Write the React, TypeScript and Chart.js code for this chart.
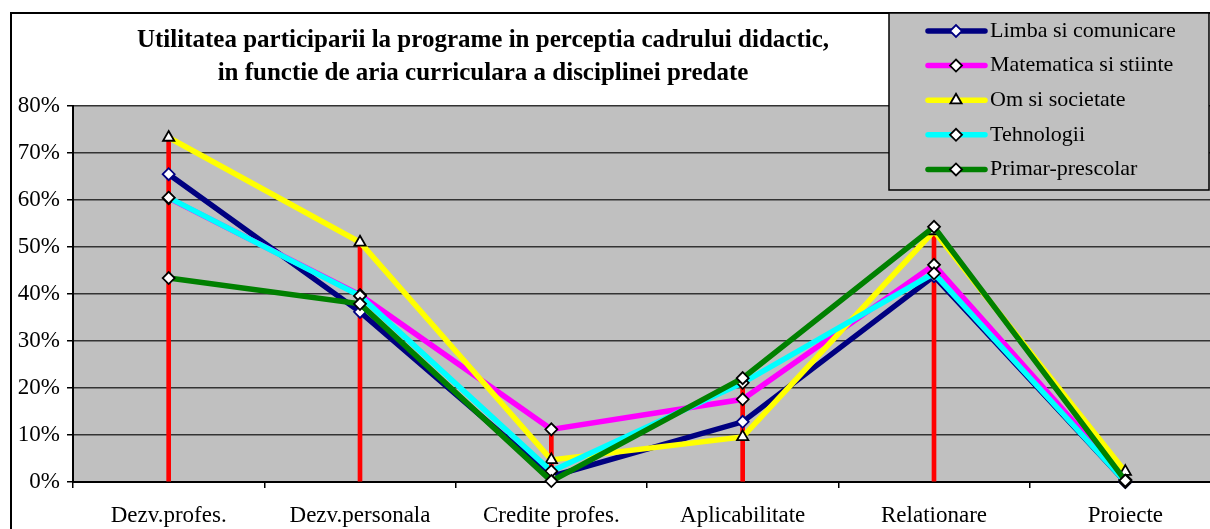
import React, { useEffect, useRef } from 'react';
import { Chart, registerables } from 'chart.js';
import { drawPoint } from 'chart.js/helpers';

Chart.register(...registerables);

const titleLines = [
  'Utilitatea participarii la programe in perceptia cadrului didactic,',
  'in functie de aria curriculara a disciplinei predate',
];
const categories = ['Dezv.profes.', 'Dezv.personala', 'Credite profes.', 'Aplicabilitate', 'Relationare', 'Proiecte'];
const seriesNames = ['Limba si comunicare', 'Matematica si stiinte', 'Om si societate', 'Tehnologii', 'Primar-prescolar'];
const limba = [65.5, 36.2, 1.2, 12.8, 43.8, 0];
const matematica = [60.4, 39.8, 11.2, 17.6, 46.2, 0.5];
const omSocietate = [73.3, 51.0, 4.7, 9.6, 53.4, 2.2];
const tehnologii = [60.5, 39.6, 2.3, 21.1, 44.4, 0];
const primar = [43.4, 37.9, 0.2, 22.1, 54.3, 0.3];
const yMin = 0;
const yMax = 80;
const yStep = 10;

const seriesValues = [limba, matematica, omSocietate, tehnologii, primar];
const lineColors = ['#000080', '#FF00FF', '#FFFF00', '#00FFFF', '#008000'];
const markerStyles = ['rectRot', 'rectRot', 'triangle', 'rectRot', 'rectRot'];
const markerBorders = ['#000080', '#000000', '#000000', '#000000', '#000000'];

const FONT = "'Liberation Serif', 'Times New Roman', serif";

const decor = {
  id: 'decor',
  beforeDraw(chart: any) {
    const { ctx, chartArea: a } = chart;
    ctx.save();
    ctx.fillStyle = '#ffffff';
    ctx.fillRect(0, 0, chart.width, chart.height);
    ctx.fillStyle = '#C0C0C0';
    ctx.fillRect(a.left, a.top, a.right - a.left, a.bottom - a.top);
    ctx.restore();
  },
  afterDraw(chart: any) {
    const { ctx } = chart;
    ctx.save();
    // outer frame
    ctx.strokeStyle = '#000';
    ctx.lineWidth = 2;
    ctx.strokeRect(11, 13, 1400, 700);
    // title
    ctx.fillStyle = '#000';
    ctx.font = `bold 25px ${FONT}`;
    ctx.textAlign = 'center';
    ctx.textBaseline = 'alphabetic';
    ctx.fillText(titleLines[0], 483, 47);
    ctx.fillText(titleLines[1], 483, 80);
    // legend
    const lx = 889, ly = 13, lw = 320, lh = 177;
    ctx.fillStyle = '#C0C0C0';
    ctx.fillRect(lx, ly, lw, lh);
    ctx.strokeStyle = '#000';
    ctx.lineWidth = 1.5;
    ctx.strokeRect(lx, ly, lw, lh);
    const lineDs = chart.data.datasets.filter((d: any) => d.type === 'line');
    lineDs.forEach((d: any, i: number) => {
      const y = ly + 18 + i * 34.6;
      ctx.strokeStyle = d.borderColor;
      ctx.lineWidth = 5.5;
      ctx.lineCap = 'round';
      ctx.beginPath();
      ctx.moveTo(928, y);
      ctx.lineTo(985, y);
      ctx.stroke();
      ctx.lineCap = 'butt';
      ctx.fillStyle = '#fff';
      ctx.strokeStyle = d.pointBorderColor;
      ctx.lineWidth = d.pointBorderWidth;
      drawPoint(ctx, { pointStyle: d.pointStyle, radius: d.pointRadius, borderWidth: d.pointBorderWidth, rotation: 0 } as any, 956, y);
      ctx.fillStyle = '#000';
      ctx.font = `22px ${FONT}`;
      ctx.textAlign = 'left';
      ctx.textBaseline = 'middle';
      ctx.fillText(d.label, 990, y);
    });
    ctx.restore();
  },
};

export default function App() {
  const ref = useRef<HTMLCanvasElement | null>(null);
  useEffect(() => {
    if (!ref.current) return;
    const maxes = categories.map((_, i) => Math.max(...seriesValues.map((s) => s[i])));
    const datasets: any[] = seriesValues.map((vals, i) => ({
      type: 'line',
      label: seriesNames[i],
      data: vals,
      borderColor: lineColors[i],
      backgroundColor: lineColors[i],
      borderWidth: 5.5,
      tension: 0,
      pointStyle: markerStyles[i],
      pointRadius: markerStyles[i] === 'triangle' ? 6.5 : 6,
      pointBackgroundColor: '#ffffff',
      pointBorderColor: markerBorders[i],
      pointBorderWidth: 1.8,
      clip: false,
      order: 10 - i,
    }));
    datasets.push({
      type: 'bar',
      label: 'drop',
      data: maxes,
      backgroundColor: '#FF0000',
      barThickness: 4,
      order: 100,
    });
    const chart = new Chart(ref.current, {
      type: 'line',
      data: { labels: categories, datasets },
      options: {
        animation: false,
        responsive: false,
        devicePixelRatio: 1,
        layout: { padding: { top: 106, right: 19, left: 0, bottom: 0 } },
        plugins: { legend: { display: false }, title: { display: false }, tooltip: { enabled: false } },
        scales: {
          x: {
            type: 'category',
            offset: true,
            grid: { offset: true, drawOnChartArea: false, drawTicks: true, tickLength: 6, color: '#000', lineWidth: 1.5 },
            border: { display: true, color: '#000', width: 2 },
            ticks: { font: { family: FONT, size: 23 }, color: '#000', padding: 14, maxRotation: 0, autoSkip: false },
            afterFit: (s: any) => { s.height = 63; },
          },
          y: {
            min: yMin,
            max: yMax,
            ticks: { stepSize: yStep, callback: (v: any) => v + '%', font: { family: FONT, size: 23 }, color: '#000', padding: 7 },
            grid: { color: '#333333', lineWidth: 1.5, tickLength: 6, tickColor: '#000' },
            border: { color: '#000', width: 2 },
            afterFit: (s: any) => { s.width = 73; },
          },
        },
      } as any,
      plugins: [decor],
    });
    return () => chart.destroy();
  }, []);
  return (
    <div style={{ position: 'fixed', left: 0, top: 0, width: 1210, height: 529, overflow: 'hidden', background: '#fff' }}>
      <canvas ref={ref} width={1240} height={545} style={{ display: 'block', width: 1240, height: 545 }} />
    </div>
  );
}
